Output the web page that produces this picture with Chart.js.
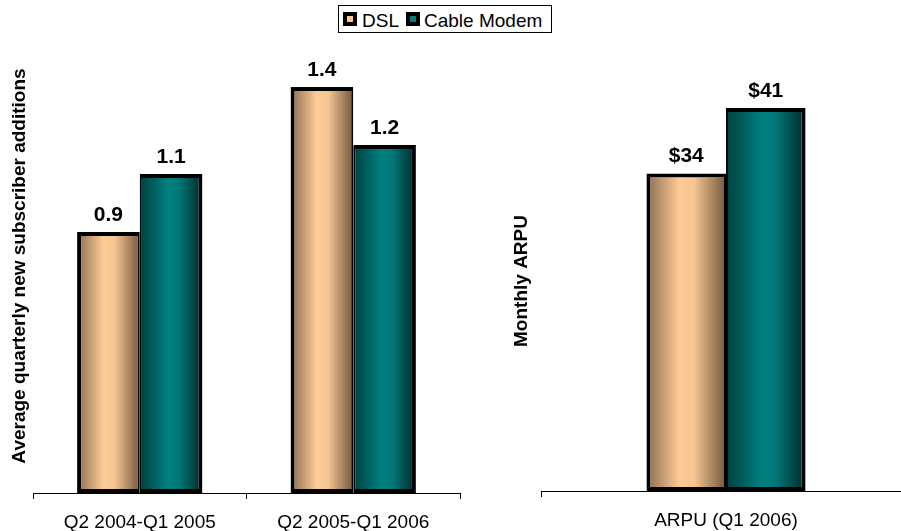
<!DOCTYPE html>
<html>
<head>
<meta charset="utf-8">
<script src="https://cdn.jsdelivr.net/npm/chart.js@4.4.1/dist/chart.umd.min.js"></script>
<style>
  html, body { margin: 0; padding: 0; background: #fff; }
  #wrap { position: relative; width: 901px; height: 531px; overflow: hidden;
          font-family: Arial, "Liberation Sans", sans-serif; }
  #adds { position: absolute; left: 0; top: 0; }
  #arpu { position: absolute; left: 500px; top: 0; }
  .legend { position: absolute; left: 338px; top: 5px; width: 212px; height: 26px;
            border: 1px solid #000; background: #fff; }
  .legend .sw { position: absolute; top: 6px; width: 14px; height: 14px;
                box-sizing: border-box; border: 4px solid #000; }
  .legend .lbl { position: absolute; top: 5px; font-size: 19px; line-height: 19px;
                 color: #000; white-space: nowrap; }
</style>
</head>
<body>
<div id="wrap">
  <canvas id="adds" width="470" height="531"></canvas>
  <canvas id="arpu" width="420" height="531"></canvas>
  <div class="legend">
    <span class="sw" style="left:4px; background:#fcc896;"></span>
    <span class="lbl" id="lg0" style="left:23px;"></span>
    <span class="sw" style="left:67px; background:#008080;"></span>
    <span class="lbl" id="lg1" style="left:85px;"></span>
  </div>
</div>
<script>
// ---- data ----
const seriesNames = ['DSL', 'Cable Modem'];

const addsCategories = ['Q2 2004-Q1 2005', 'Q2 2005-Q1 2006'];
const addsDsl = [0.9, 1.4];
const addsCable = [1.1, 1.2];

const arpuCategories = ['ARPU (Q1 2006)'];
const arpuDsl = [34];
const arpuCable = [41];

// ---- styling ----
const FONT = 'Arial, "Liberation Sans", sans-serif';
const dslShade = [[0, '#8a6c4e'], [0.42, '#ffcc99'], [0.6, '#f6c592'], [1, '#73573c']];
const cableShade = [[0, '#003f3f'], [0.45, '#008080'], [0.62, '#007878'], [1, '#002828']];

document.getElementById('lg0').textContent = seriesNames[0];
document.getElementById('lg1').textContent = seriesNames[1];

// Horizontal shading across each bar, built from the bar's own geometry
const barShading = {
  id: 'barShading',
  beforeDatasetsDraw(chart) {
    const ctx = chart.ctx;
    chart.data.datasets.forEach((ds, di) => {
      const meta = chart.getDatasetMeta(di);
      meta.data.forEach(el => {
        const { x, width } = el.getProps(['x', 'width'], true);
        const g = ctx.createLinearGradient(x - width / 2, 0, x + width / 2, 0);
        ds.shade.forEach(([o, c]) => g.addColorStop(o, c));
        el.options = Object.assign({}, el.options, { backgroundColor: g });
      });
    });
  }
};

// Value printed above each bar
const valueLabels = {
  id: 'valueLabels',
  afterDatasetsDraw(chart, args, opts) {
    const ctx = chart.ctx;
    ctx.save();
    ctx.font = 'bold 21px ' + FONT;
    ctx.fillStyle = '#000';
    ctx.textAlign = 'center';
    ctx.textBaseline = 'alphabetic';
    chart.data.datasets.forEach((ds, di) => {
      chart.getDatasetMeta(di).data.forEach((el, i) => {
        const v = ds.data[i];
        ctx.fillText(opts.prefix + v.toFixed(opts.decimals), el.x, el.y - 11);
      });
    });
    ctx.restore();
  }
};

// Rotated value-axis caption
const sideTitle = {
  id: 'sideTitle',
  afterDraw(chart, args, opts) {
    const ctx = chart.ctx;
    ctx.save();
    ctx.translate(opts.x, opts.y);
    ctx.rotate(-Math.PI / 2);
    ctx.font = 'bold 19px ' + FONT;
    ctx.fillStyle = '#000';
    ctx.textAlign = 'center';
    ctx.textBaseline = 'middle';
    ctx.fillText(opts.text, 0, 0);
    ctx.restore();
  }
};

function barSet(label, data, shade, catPct, inner) {
  return {
    label, data, shade,
    borderColor: '#000',
    borderWidth: inner === 'right'
      ? { top: 4, left: 4, bottom: 4, right: 2 }
      : { top: 4, left: 2, bottom: 4, right: 4 },
    borderSkipped: false,
    categoryPercentage: catPct,
    barPercentage: 1
  };
}

function xScale(h) {
  return {
    offset: true,
    grid: { display: true, drawOnChartArea: false, drawTicks: true, tickLength: 6,
            color: '#000', lineWidth: 1, offset: true },
    border: { display: true, color: '#000', width: 1 },
    ticks: { color: '#000', font: { family: FONT, size: 19 }, padding: 12,
             maxRotation: 0, autoSkip: false },
    afterFit(scale) { scale.height = h; }
  };
}

const common = {
  responsive: false,
  devicePixelRatio: 1,
  animation: false,
  events: []
};

new Chart(document.getElementById('adds'), {
  type: 'bar',
  data: {
    labels: addsCategories,
    datasets: [
      barSet(seriesNames[0], addsDsl, dslShade, 0.587, 'right'),
      barSet(seriesNames[1], addsCable, cableShade, 0.587, 'left')
    ]
  },
  options: Object.assign({}, common, {
    layout: { padding: { left: 33, right: 10, top: 29, bottom: 0 } },
    scales: {
      x: xScale(38),
      y: { display: false, min: 0, max: 1.6 }
    },
    plugins: {
      legend: { display: false },
      tooltip: { enabled: false },
      valueLabels: { prefix: '', decimals: 1 },
      sideTitle: { text: 'Average quarterly new subscriber additions', x: 20, y: 266 }
    }
  }),
  plugins: [barShading, valueLabels, sideTitle]
});

new Chart(document.getElementById('arpu'), {
  type: 'bar',
  data: {
    labels: arpuCategories,
    datasets: [
      barSet(seriesNames[0], arpuDsl, dslShade, 0.43, 'right'),
      barSet(seriesNames[1], arpuCable, cableShade, 0.43, 'left')
    ]
  },
  options: Object.assign({}, common, {
    layout: { padding: { left: 41, right: 9, top: 24, bottom: 0 } },
    scales: {
      x: xScale(40),
      y: { display: false, min: 0, max: 50 }
    },
    plugins: {
      legend: { display: false },
      tooltip: { enabled: false },
      valueLabels: { prefix: '$', decimals: 0 },
      sideTitle: { text: 'Monthly ARPU', x: 22, y: 281 }
    }
  }),
  plugins: [barShading, valueLabels, sideTitle]
});
</script>
</body>
</html>
